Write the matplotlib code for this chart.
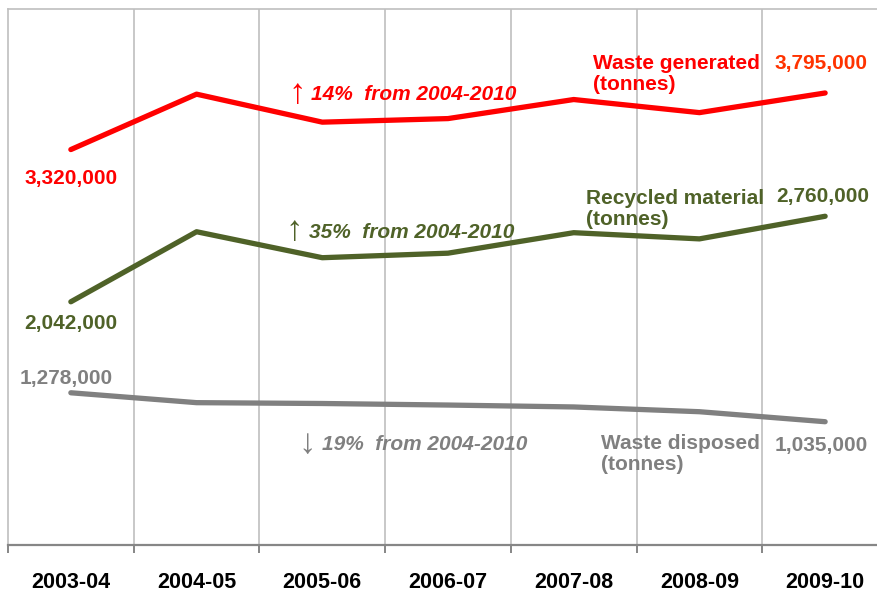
import matplotlib
matplotlib.use("Agg")
import matplotlib.pyplot as plt

plt.rcParams['font.family'] = ['Liberation Sans', 'DejaVu Sans']

# Data
years = ["2003-04", "2004-05", "2005-06", "2006-07", "2007-08", "2008-09", "2009-10"]
generated = [3320000, 3785000, 3550000, 3580000, 3740000, 3630000, 3795000]
recycled = [2042000, 2630000, 2412000, 2450000, 2622000, 2570000, 2760000]
disposed = [1278000, 1195000, 1188000, 1175000, 1159000, 1119000, 1035000]

RED = "#FF0000"
GREEN = "#4F6228"
GREY = "#808080"

W, H = 877, 592
fig = plt.figure(figsize=(W / 100, H / 100), dpi=100)

# axes runs off the right edge of the picture, like the original
left, right, top, bottom = 8, 888, 9, 545
ax = fig.add_axes([left / W, 1 - bottom / H, (right - left) / W, (bottom - top) / H])

x = list(range(len(years)))
ax.plot(x, generated, color=RED, lw=3.8, solid_capstyle='round', solid_joinstyle='round', zorder=3)
ax.plot(x, recycled, color=GREEN, lw=3.8, solid_capstyle='round', solid_joinstyle='round', zorder=3)
ax.plot(x, disposed, color=GREY, lw=3.8, solid_capstyle='round', solid_joinstyle='round', zorder=3)

ax.set_xlim(-0.5, len(years) - 0.5)
ax.set_ylim(0, 4500000)

# gridlines between categories
for b in range(len(years)):
    ax.axvline(b + 0.5, color="#BFBFBF", lw=1.2, zorder=1)

for s in ['left', 'top', 'right']:
    ax.spines[s].set_color("#BFBFBF")
    ax.spines[s].set_linewidth(1.2)
ax.spines['bottom'].set_color("#868686")
ax.spines['bottom'].set_linewidth(1.6)

ax.set_yticks([])
ax.set_xticks([i - 0.5 for i in range(len(years) + 1)])
ax.set_xticklabels([])
ax.tick_params(axis='x', which='major', direction='out', length=6, width=1.4, color="#868686")
ax.set_xticks(x, minor=True)
ax.set_xticklabels(years, minor=True, fontsize=15.5, fontweight='bold')
ax.tick_params(axis='x', which='minor', length=0, pad=19.5)

# value labels at the ends of each line
def endlabel(xi, val, color, dx, dy):
    ax.annotate(f"{val:,}", xy=(xi, val), xytext=(dx, dy), textcoords='offset points',
                ha='center', va='center', fontsize=15, fontweight='bold', color=color)

endlabel(0, generated[0], RED, 0, -21)
endlabel(6, generated[-1], "#FF3300", -3, 21.5)
endlabel(0, recycled[0], GREEN, 0, -16)
endlabel(6, recycled[-1], GREEN, -1.5, 14)
endlabel(0, disposed[0], GREY, -3.5, 10.5)
endlabel(6, disposed[-1], GREY, -3, -17)

def ftext(px, py, s, **kw):
    fig.text(px / W, 1 - py / H, s, **kw)

# series names
ftext(593, 74, "Waste generated\n(tonnes)", color=RED, fontsize=15, fontweight='bold',
      va='center', linespacing=1.1)
ftext(586, 209, "Recycled material\n(tonnes)", color=GREEN, fontsize=15, fontweight='bold',
      va='center', linespacing=1.1)
ftext(601, 454, "Waste disposed\n(tonnes)", color=GREY, fontsize=15, fontweight='bold',
      va='center', linespacing=1.1)

# change notes
ftext(297, 93, "↑", color=RED, fontsize=25, ha='center', va='center')
ftext(311, 94, "14%  from 2004-2010", color=RED, fontsize=15, fontweight='bold',
      fontstyle='italic', va='center')
ftext(294, 231, "↑", color=GREEN, fontsize=25, ha='center', va='center')
ftext(309, 232, "35%  from 2004-2010", color=GREEN, fontsize=15, fontweight='bold',
      fontstyle='italic', va='center')
ftext(307, 443, "↓", color=GREY, fontsize=25, ha='center', va='center')
ftext(322, 444, "19%  from 2004-2010", color=GREY, fontsize=15, fontweight='bold',
      fontstyle='italic', va='center')

fig.savefig("out.png", dpi=100)
